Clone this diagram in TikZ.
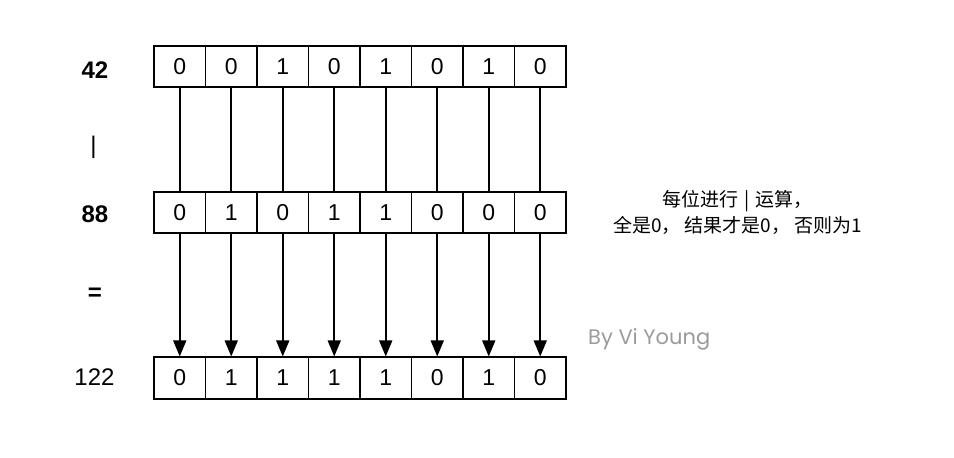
\documentclass[tikz,border=0pt]{standalone}
\usepackage{fontspec}
\setmainfont{Liberation Sans}
\newfontfamily\cjk{Noto Sans CJK SC}
\newfontfamily\sig{Poppins}
\usetikzlibrary{arrows.meta}
\definecolor{sigGray}{RGB}{155,155,155}
\newcommand{\cjkcomma}{，\hspace{0.2em}}
\begin{document}
\begin{tikzpicture}[x=1pt,y=-1pt,
  cell/.style={draw=black, line width=1.6pt, minimum width=51.5pt, minimum height=41.5pt, inner sep=0pt, font=\fontsize{23}{27}\selectfont},
  lblb/.style={font=\fontsize{24}{28}\selectfont\bfseries, inner sep=0pt},
  lbl/.style={font=\fontsize{24}{28}\selectfont, inner sep=0pt},
  link/.style={draw=black, line width=1.6pt},
  arr/.style={link, -{Triangle[width=13pt,length=16pt]}}]
\useasboundingbox (0,0) rectangle (954,458);
\foreach \b [count=\i] in {0,0,1,0,1,0,1,0}
  \node[cell] (a\i) at (128.25+51.5*\i, 66.5) {\b};
\foreach \b [count=\i] in {0,1,0,1,1,0,0,0}
  \node[cell] (b\i) at (128.25+51.5*\i, 212.5) {\b};
\foreach \b [count=\i] in {0,1,1,1,1,0,1,0}
  \node[cell] (c\i) at (128.25+51.5*\i, 378) {\b};
\foreach \i in {1,...,8} {
  \draw[link] (a\i.south) -- (b\i.north);
  \draw[arr] (b\i.south) -- (c\i.north);
}
\node[lblb] (l42) at (95,70.5) {42};
\node[lbl] (lor) at (93.5,147.5) {|};
\node[lblb] (l88) at (95,214.5) {88};
\node[lblb] (leq) at (95,294) {=};
\node[lbl] (l122) at (94.5,377) {122};
\node[font=\cjk\fontsize{19}{26}\selectfont, align=center, inner sep=0pt] (note) at (737.5,212) {每位进行\hspace{0.3em}|\hspace{0.3em}运算，\\全是0\cjkcomma 结果才是0\cjkcomma 否则为1};
\node[font=\sig\fontsize{21}{25}\selectfont, text=sigGray, anchor=west, inner sep=0pt] (sig) at (588,339.5) {By Vi Young};
\end{tikzpicture}
\end{document}
